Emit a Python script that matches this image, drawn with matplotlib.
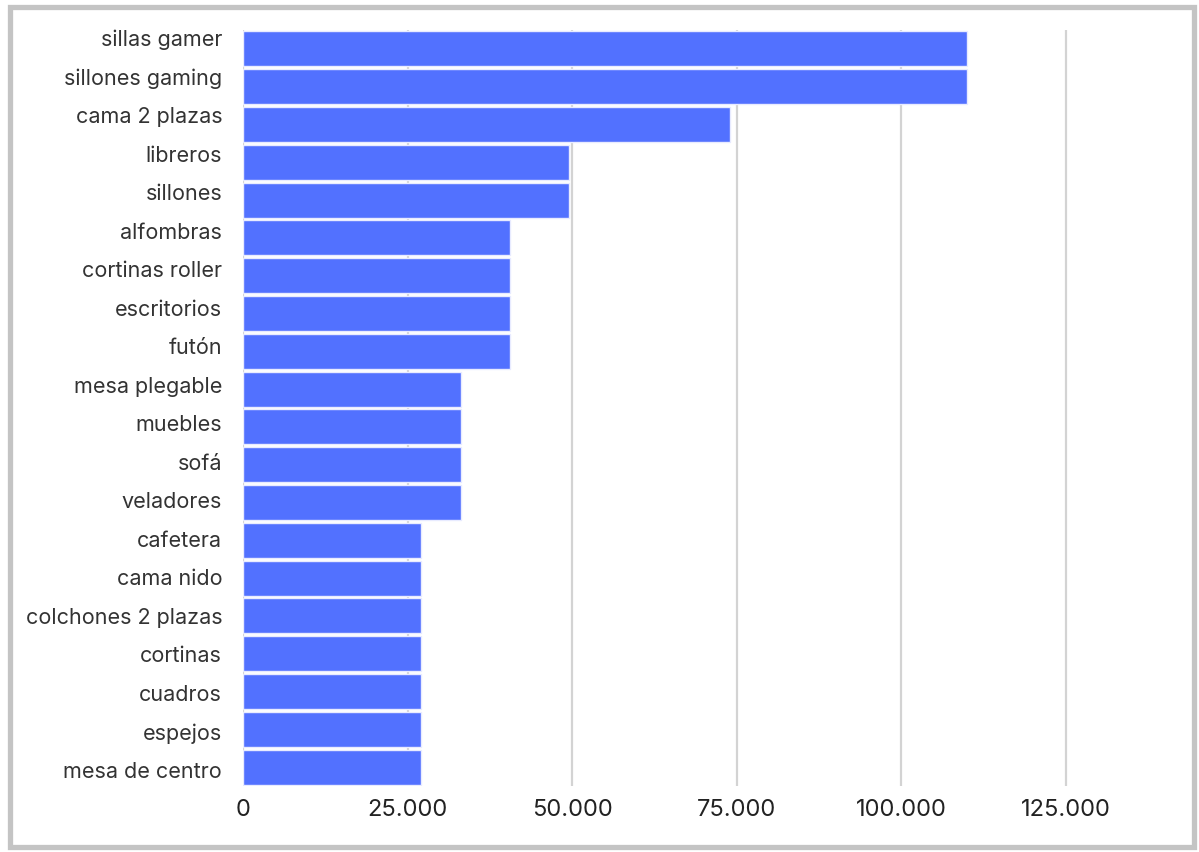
import matplotlib.pyplot as plt
from matplotlib.patches import Rectangle
from matplotlib.ticker import FuncFormatter

# keyword search volumes
keywords = [
    "sillas gamer", "sillones gaming", "cama 2 plazas", "libreros", "sillones",
    "alfombras", "cortinas roller", "escritorios", "futón", "mesa plegable",
    "muebles", "sofá", "veladores", "cafetera", "cama nido",
    "colchones 2 plazas", "cortinas", "cuadros", "espejos", "mesa de centro",
]
volumes = [
    110000, 110000, 74000, 49500, 49500,
    40500, 40500, 40500, 40500, 33100,
    33100, 33100, 33100, 27100, 27100,
    27100, 27100, 27100, 27100, 27100,
]
x_ticks = [0, 25000, 50000, 75000, 100000, 125000]

plt.rcParams['font.family'] = ['Inter', 'DejaVu Sans']

W, H = 1199, 853
fig = plt.figure(figsize=(W / 100, H / 100), dpi=100)
ax = fig.add_axes([243 / W, (H - 787) / H, (1099 - 243) / W, (787 - 31) / H])

pos = list(range(len(keywords)))
ax.barh(pos, volumes, height=0.93, color='#5271ff',
        edgecolor='#e8ebff', linewidth=1.0, zorder=2)

ax.set_ylim(len(keywords) - 0.5, -0.5)
# category labels sit on a slightly wider pitch than the bars
ax.set_yticks([-0.315 + i * 1.019 for i in pos])
ax.set_yticklabels(keywords, fontsize=15.5, color='#333333')

ax.set_xlim(0, 130000)
ax.set_xticks(x_ticks)
ax.xaxis.set_major_formatter(FuncFormatter(lambda v, p: f"{int(v):,}".replace(",", ".")))
ax.tick_params(axis='x', labelsize=17, colors='#222222', length=0, pad=9)
ax.tick_params(axis='y', length=0, pad=15)
ax.grid(axis='x', color='#d3d3d3', linewidth=1.6, zorder=0)
for s in ax.spines.values():
    s.set_visible(False)

# outer frame
fig.patches.append(Rectangle((10 / W, 5 / H), (1194 - 10) / W, (845 - 5) / H,
                             transform=fig.transFigure, fill=False,
                             edgecolor='#c4c4c4', linewidth=3.8))

fig.savefig('out.png', dpi=100)
